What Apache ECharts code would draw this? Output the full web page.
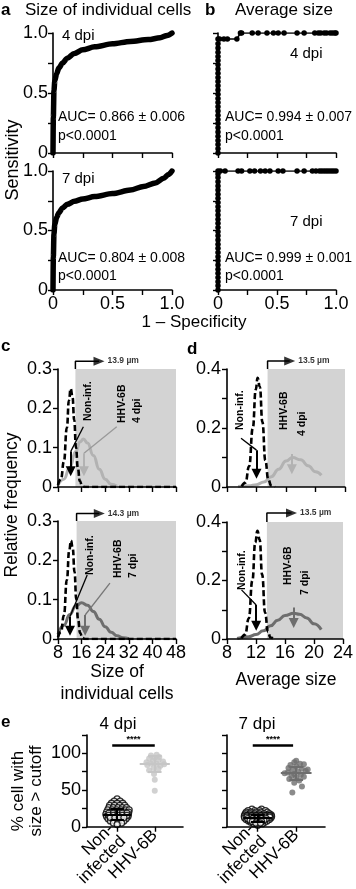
<!DOCTYPE html>
<html><head><meta charset="utf-8">
<script src="https://cdn.jsdelivr.net/npm/echarts@6.0.0/dist/echarts.min.js"></script>
<style>html,body{margin:0;padding:0;background:#fff;}#chart{width:356px;height:889px;}</style>
</head><body><div id="chart"></div>
<script>
// ---------------- data ----------------
const rocIndividual4 = [[0,0],[0.003,0.3],[0.008,0.52],[0.015,0.6],[0.03,0.66],[0.05,0.71],[0.08,0.75],[0.12,0.79],[0.18,0.83],[0.25,0.86],[0.35,0.885],[0.5,0.91],[0.65,0.93],[0.8,0.945],[0.9,0.96],[0.96,0.98],[1,1]];
const rocIndividual7 = [[0,0],[0.003,0.28],[0.008,0.47],[0.015,0.55],[0.03,0.61],[0.05,0.65],[0.08,0.69],[0.12,0.72],[0.18,0.745],[0.25,0.765],[0.35,0.785],[0.5,0.81],[0.65,0.84],[0.76,0.87],[0.86,0.9],[0.93,0.94],[0.97,0.97],[1,1]];
const rocAverage4 = [[0,0],[0,0.035],[0,0.07],[0,0.105],[0,0.14],[0,0.175],[0,0.21],[0,0.245],[0,0.28],[0,0.315],[0,0.35],[0,0.385],[0,0.42],[0,0.455],[0,0.49],[0,0.525],[0,0.56],[0,0.595],[0,0.63],[0,0.665],[0,0.7],[0,0.735],[0,0.77],[0,0.805],[0,0.84],[0,0.875],[0,0.91],[0,0.95],[0.014,0.95],[0.05,0.95],[0.08,0.95],[0.16,0.95],[0.19,1],[0.2,1],[0.29,1],[0.34,1],[0.415,1],[0.47,1],[0.51,1],[0.56,1],[0.67,1],[0.73,1],[0.82,1],[0.85,1],[0.87,1],[0.9,1],[0.92,1],[0.95,1],[0.97,1],[0.99,1],[1,1]];
const rocAverage7 = [[0,0],[0,0.035],[0,0.07],[0,0.105],[0,0.14],[0,0.175],[0,0.21],[0,0.245],[0,0.28],[0,0.315],[0,0.35],[0,0.385],[0,0.42],[0,0.455],[0,0.49],[0,0.525],[0,0.56],[0,0.595],[0,0.63],[0,0.665],[0,0.7],[0,0.735],[0,0.77],[0,0.805],[0,0.84],[0,0.875],[0,0.91],[0,0.945],[0,0.975],[0,1],[0.02,1],[0.06,1],[0.17,1],[0.2,1],[0.27,1],[0.31,1],[0.36,1],[0.4,1],[0.44,1],[0.51,1],[0.55,1],[0.67,1],[0.73,1],[0.8,1],[0.83,1],[0.86,1],[0.88,1],[0.9,1],[0.92,1],[0.94,1],[0.96,1],[0.98,1],[1,1]];
const aucIndividual = ['AUC= 0.866 ± 0.006', 'AUC= 0.804 ± 0.008'];
const aucAverage = ['AUC= 0.994 ± 0.007', 'AUC= 0.999 ± 0.001'];
const pValue = 'p<0.0001';
const dpiLabels = ['4 dpi', '7 dpi'];

const cutoffIndividual = [13.9, 14.3];
const cutoffAverage = [13.5, 13.5];
const histIndNon4 = [[8,0.005],[9,0.02],[10,0.065],[11,0.15],[11.7,0.22],[12.3,0.25],[12.9,0.23],[13.5,0.17],[14.1,0.1],[14.7,0.05],[15.4,0.015],[16.2,0.003],[17,0],[48,0]];
const histIndHhv4 = [[8,0.005],[10,0.02],[12,0.05],[14,0.09],[15.5,0.115],[16.6,0.122],[18,0.112],[20,0.08],[22,0.045],[24,0.02],[26,0.007],[28,0.002]];
const histIndNon7 = [[8,0.004],[9,0.018],[10,0.06],[11,0.15],[11.8,0.225],[12.4,0.25],[13,0.23],[13.6,0.17],[14.2,0.1],[14.8,0.05],[15.5,0.015],[16.3,0.003],[17,0],[48,0]];
const histIndHhv7 = [[8,0.012],[10,0.035],[12,0.062],[14,0.084],[16,0.092],[18,0.086],[20,0.07],[22,0.05],[24,0.031],[26,0.017],[28,0.008],[30,0.003],[32,0.001]];
const histAvgNon4 = [[10,0.002],[10.5,0.015],[11,0.07],[11.5,0.2],[11.9,0.33],[12.15,0.37],[12.45,0.34],[12.8,0.22],[13.2,0.09],[13.6,0.025],[14,0.005],[14.5,0]];
const histAvgHhv4 = [[9.5,0.002],[11,0.004],[12,0.008],[13,0.017],[14,0.035],[15,0.06],[16,0.088],[16.9,0.1],[18,0.092],[19,0.072],[20,0.052],[20.8,0.04]];
const histAvgNon7 = [[10,0.002],[10.5,0.015],[11,0.07],[11.5,0.2],[11.9,0.33],[12.2,0.37],[12.5,0.34],[12.85,0.22],[13.25,0.09],[13.65,0.025],[14,0.005],[14.5,0]];
const histAvgHhv7 = [[9.4,0.002],[11,0.008],[12,0.015],[13,0.028],[14,0.045],[15,0.064],[16,0.08],[17.2,0.088],[18,0.085],[19,0.072],[20,0.052],[21,0.032]];
// mean markers: [x, yFrom, yTo]
const markIndNon = [[12.3,0.09,0.04],[12.07,0.057,0.021]];
const markIndHhv = [[16.8,0.086,0.04],[17.2,0.061,0.021]];
const markAvgNon = [[12.0,0.125,0.045],[12.03,0.116,0.045]];
const markAvgHhv = [[16.8,0.112,0.06],[17.2,0.108,0.055]];
// label leader lines
const leadIndNon = [[[16.6,0.153],[12.3,0.09]], [[17.9,0.163],[12.07,0.057]]];
const leadIndHhv = [[[27.9,0.153],[16.8,0.086]], [[25.6,0.142],[17.2,0.061]]];
const leadAvgNon = [[[9.9,0.165],[12.0,0.125]], [[10.0,0.168],[12.03,0.116]]];

const eCategories = ['Non-\ninfected', 'HHV-6B'];
const eNon4 = [[1.0,38],[0.92,35],[1.08,35],[0.85,32],[1.0,32],[1.15,32],[0.8,29],[0.93,29],[1.07,29],[1.2,29],[0.78,26],[0.9,26],[1.02,26],[1.14,26],[1.25,26],[0.75,23],[0.87,23],[0.99,23],[1.11,23],[1.23,23],[1.32,23],[0.72,20],[0.84,20],[0.96,20],[1.08,20],[1.2,20],[1.31,20],[0.7,17],[0.82,17],[0.94,17],[1.06,17],[1.18,17],[1.3,17],[0.72,14],[0.84,14],[0.96,14],[1.08,14],[1.2,14],[1.29,14],[0.76,11],[0.88,11],[1.0,11],[1.12,11],[1.24,11],[0.82,8],[0.94,8],[1.06,8],[1.18,8],[0.9,5],[1.02,5],[1.12,5],[1.0,3],[0.78,18.5],[0.9,18.5],[1.02,18.5],[1.14,18.5],[1.26,18.5],[0.78,15.5],[0.9,15.5],[1.02,15.5],[1.14,15.5],[1.26,15.5],[0.82,12.5],[0.94,12.5],[1.06,12.5],[1.18,12.5]];
const eHhv4 = [[2.0,49],[2.0,64],[1.98,72],[1.85,77],[2.1,79],[1.97,80],[1.8,84],[2.15,83],[1.9,86],[2.05,86],[2.25,85],[1.78,88],[1.95,90],[2.1,91],[2.22,89],[1.85,93],[2.0,94],[2.12,95],[1.9,97],[2.05,98]];
const eNon7 = [[0.85,24],[1.1,24],[0.75,22],[0.92,22],[1.05,22],[1.2,22],[0.7,20],[0.82,20],[0.95,20],[1.08,20],[1.25,20],[0.68,18],[0.8,18],[0.92,18],[1.04,18],[1.16,18],[1.3,18],[0.66,16],[0.78,16],[0.9,16],[1.02,16],[1.14,16],[1.26,16],[1.35,16],[0.65,14],[0.77,14],[0.89,14],[1.01,14],[1.13,14],[1.25,14],[1.36,14],[0.66,12],[0.78,12],[0.9,12],[1.02,12],[1.14,12],[1.26,12],[1.34,12],[0.7,10],[0.82,10],[0.94,10],[1.06,10],[1.18,10],[1.3,10],[0.76,8],[0.88,8],[1.0,8],[1.12,8],[1.24,8],[0.82,6],[0.94,6],[1.06,6],[1.18,6],[0.9,4],[1.02,4],[1.12,4],[1.0,2],[0.72,15],[0.84,15],[0.96,15],[1.08,15],[1.2,15],[1.31,15],[0.72,13],[0.84,13],[0.96,13],[1.08,13],[1.2,13],[1.31,13],[0.74,11],[0.86,11],[0.98,11],[1.1,11],[1.22,11],[0.8,9],[0.92,9],[1.04,9],[1.16,9],[0.86,7],[0.98,7],[1.1,7],[0.95,5],[1.07,5]];
const eHhv7 = [[2.0,90],[1.95,88],[2.1,86],[1.85,84],[2.2,85],[2.0,82],[1.8,80],[2.15,79],[1.9,77],[2.25,76],[2.3,78],[2.05,75],[1.78,74],[1.7,73],[1.95,72],[2.12,71],[1.88,69],[2.0,67],[2.2,68],[1.82,65],[2.08,63],[1.95,60],[2.15,55],[1.9,46.5]];
const eMean4 = [17, 86], eSd4 = [7, 11];
const eMean7 = [12, 73], eSd7 = [5, 9];
const eSigBar = [[0.87, 2.0, 111], [0.87, 1.92, 111]];
const eSigText = '****';

// ---------------- helpers ----------------
const F = '"Liberation Sans", Arial, Helvetica, sans-serif';
const LIGHT = '#b2b2b2', DARK = '#6e6e6e', SHADE = '#d3d3d3', ELIGHT = '#c6c6c6';
function merge(a, b) { for (const k in b) { const v = b[k]; if (v && typeof v === 'object' && !Array.isArray(v) && a[k] && typeof a[k] === 'object' && !Array.isArray(a[k])) merge(a[k], v); else a[k] = v; } return a; }
function ax(o) {
  return merge({
    type: 'value', z: 5,
    axisLine: { show: true, onZero: false, lineStyle: { color: '#000', width: 1.6 } },
    axisTick: { show: true, inside: false, length: 5, lineStyle: { color: '#000', width: 1.4 } },
    axisLabel: { show: true, color: '#000', fontSize: 18, fontFamily: F, margin: 6 },
    splitLine: { show: false }
  }, o);
}
const fmtRoc = v => v === 0 ? '0' : Math.abs(v - 0.5) < 1e-9 ? '0.5' : Math.abs(v - 1) < 1e-9 ? '1.0' : '';
const fmtC = v => v === 0 ? '0' : v.toFixed(1);
const fmtD = v => { const r = Math.round(v * 10); return r === 0 ? '0' : (r % 2 === 0 ? (r / 10).toFixed(1) : ''); };
const fmtE = v => (v % 50 === 0 ? String(v) : '');

const grids = [
  { left: 53, top: 33, width: 119, height: 120 },
  { left: 218, top: 33, width: 118, height: 120 },
  { left: 53, top: 171, width: 119, height: 119 },
  { left: 218, top: 171, width: 118, height: 119 },
  { left: 58, top: 369, width: 118, height: 118 },
  { left: 227, top: 369, width: 118, height: 118 },
  { left: 58, top: 521, width: 118, height: 118 },
  { left: 227, top: 522, width: 118, height: 117 },
  { left: 87, top: 735, width: 96, height: 97 },
  { left: 227, top: 735, width: 98, height: 97 }
];
const xAxes = [], yAxes = [];
for (let i = 0; i < 4; i++) {
  xAxes.push(ax({ gridIndex: i, min: 0, max: 1, interval: 0.25, axisLabel: { show: i >= 2, formatter: fmtRoc, margin: 5 } }));
  yAxes.push(ax({ gridIndex: i, min: 0, max: 1, interval: 0.25, axisLabel: { show: i % 2 === 0, formatter: fmtRoc, margin: 5 } }));
}
[[4, 'c', false], [5, 'd', false], [6, 'c', true], [7, 'd', true]].forEach(([g, t, lab]) => {
  xAxes.push(ax({ gridIndex: g, min: 8, max: t === 'c' ? 48 : 24, interval: t === 'c' ? 8 : 4, axisLabel: { show: lab, margin: 5 } }));
  yAxes.push(ax({ gridIndex: g, min: 0, max: t === 'c' ? 0.3 : 0.4, interval: 0.1, axisLabel: { formatter: t === 'c' ? fmtC : fmtD, margin: 6 } }));
});
[8, 9].forEach((g, k) => {
  xAxes.push(ax({ gridIndex: g, min: 0.2, max: 2.75,
    axisTick: { customValues: [1, 2] },
    axisLabel: { customValues: [1, 2], rotate: 45, fontSize: 17, lineHeight: 17, margin: 6,
      formatter: v => eCategories[Math.round(v) - 1] } }));
  yAxes.push(ax({ gridIndex: g, min: 0, max: 125, interval: 25, axisLabel: { show: k === 0, formatter: fmtE, margin: 6 } }));
});

const series = [];
[[0, rocIndividual4], [2, rocIndividual7]].forEach(([i, d]) => series.push({
  type: 'line', xAxisIndex: i, yAxisIndex: i, data: d, symbol: 'none', smooth: 0.3, smoothMonotone: 'x',
  lineStyle: { color: '#000', width: 5.5, cap: 'round', join: 'round' }, z: 3 }));
[[1, rocAverage4], [3, rocAverage7]].forEach(([i, d]) => series.push({
  type: 'line', xAxisIndex: i, yAxisIndex: i, data: d, symbol: 'circle', symbolSize: 5.5, showAllSymbol: true,
  itemStyle: { color: '#000' }, lineStyle: { color: '#000', width: 1.5 }, z: 3 }));

function arrowLine(m, color) {
  return [[{ coord: [m[0], m[1]], lineStyle: { color: color, width: 2, type: 'solid' } }, { coord: [m[0], m[2]] }]];
}
function hist(axI, non, hhv, hhvColor, cut, xmax, ymax, rise, tip, mNon, mHhv, leadNon, leadHhv, leadHhvColor) {
  series.push({ type: 'line', xAxisIndex: axI, yAxisIndex: axI, data: hhv, symbol: 'none', smooth: true, smoothMonotone: 'x',
    lineStyle: { color: hhvColor, width: 3 }, z: 3,
    markArea: { silent: true, itemStyle: { color: SHADE }, data: [[{ xAxis: cut }, { xAxis: xmax }]] },
    markLine: { silent: true, symbol: ['none', 'triangle'], symbolSize: [10, 10], label: { show: false }, data: arrowLine(mHhv, hhvColor) } });
  series.push({ type: 'line', xAxisIndex: axI, yAxisIndex: axI, data: non, symbol: 'none', smooth: true, smoothMonotone: 'x',
    lineStyle: { color: '#000', width: 2.6, type: [6, 3] }, z: 4,
    markLine: { silent: true, symbol: ['none', 'triangle'], symbolSize: [10, 10], label: { show: false }, data: arrowLine(mNon, '#000') } });
  series.push({ type: 'line', xAxisIndex: axI, yAxisIndex: axI, data: leadNon, symbol: 'none', lineStyle: { color: '#000', width: 1.3 }, z: 4 });
  if (leadHhv) series.push({ type: 'line', xAxisIndex: axI, yAxisIndex: axI, data: leadHhv, symbol: 'none', lineStyle: { color: leadHhvColor, width: 1.3 }, z: 4 });
  series.push({ type: 'line', xAxisIndex: axI, yAxisIndex: axI, clip: false, symbol: 'none',
    data: [[cut, ymax], [cut, ymax + rise], [tip, ymax + rise]], lineStyle: { color: '#000', width: 1.5 }, z: 6 });
  series.push({ type: 'scatter', xAxisIndex: axI, yAxisIndex: axI, clip: false, symbol: 'triangle', symbolSize: [9, 11], symbolRotate: -90,
    itemStyle: { color: '#000' }, z: 6, data: [[tip, ymax + rise]],
    label: { show: true, position: 'right', distance: 3, formatter: cut.toFixed(1) + ' µm', fontSize: 8.5, fontWeight: 'bold', color: '#000', fontFamily: F } });
}
hist(4, histIndNon4, histIndHhv4, LIGHT, cutoffIndividual[0], 48, 0.3, 0.02, 21.9, markIndNon[0], markIndHhv[0], leadIndNon[0], leadIndHhv[0], '#999');
hist(5, histAvgNon4, histAvgHhv4, LIGHT, cutoffAverage[0], 24, 0.4, 0.027, 16.5, markAvgNon[0], markAvgHhv[0], leadAvgNon[0], null);
hist(6, histIndNon7, histIndHhv7, DARK, cutoffIndividual[1], 48, 0.3, 0.019, 22.0, markIndNon[1], markIndHhv[1], leadIndNon[1], leadIndHhv[1], '#777');
hist(7, histAvgNon7, histAvgHhv7, DARK, cutoffAverage[1], 24, 0.4, 0.031, 16.9, markAvgNon[1], markAvgHhv[1], leadAvgNon[1], null);

function meanSd(x, m, s, color, halfW) {
  const ls = { color: color, width: 2, type: 'solid' };
  return [
    [{ coord: [x - halfW, m], lineStyle: ls }, { coord: [x + halfW, m] }],
    [{ coord: [x, m - s], lineStyle: ls }, { coord: [x, m + s] }],
    [{ coord: [x - 0.18, m + s], lineStyle: ls }, { coord: [x + 0.18, m + s] }],
    [{ coord: [x - 0.18, m - s], lineStyle: ls }, { coord: [x + 0.18, m - s] }]
  ];
}
[[8, eNon4, eHhv4, ELIGHT, eMean4, eSd4, eSigBar[0]], [9, eNon7, eHhv7, DARK, eMean7, eSd7, eSigBar[1]]].forEach(([a, non, hhv, col, mean, sd, sig]) => {
  series.push({ type: 'scatter', xAxisIndex: a, yAxisIndex: a, data: non, symbol: 'circle', symbolSize: 6,
    itemStyle: { color: '#fff', borderColor: '#000', borderWidth: 1.3 }, z: 3,
    markLine: { silent: true, symbol: ['none', 'none'], label: { show: false }, data: meanSd(1, mean[0], sd[0], '#000', 0.37) } });
  series.push({ type: 'scatter', xAxisIndex: a, yAxisIndex: a, data: hhv, symbol: 'circle', symbolSize: 6,
    itemStyle: { color: col }, z: 3,
    markLine: { silent: true, symbol: ['none', 'none'], label: { show: false },
      data: meanSd(2, mean[1], sd[1], col, 0.4).concat([[
        { coord: [sig[0], sig[2]], lineStyle: { color: '#000', width: 2.5, type: 'solid' },
          label: { show: true, position: 'middle', formatter: eSigText, fontSize: 9, fontWeight: 'bold', color: '#000', distance: 1, fontFamily: F } },
        { coord: [sig[1], sig[2]] }]]) } });
});

function T(x, y, text, size, o) {
  o = o || {};
  return { type: 'text', x: x, y: y, rotation: o.rot || 0, z: 20,
    style: { text: text, fontSize: size, fontFamily: F, fontWeight: o.bold ? 'bold' : 'normal', fill: o.color || '#000',
      align: o.align || 'left', textAlign: o.align || 'left', verticalAlign: 'middle', textVerticalAlign: 'middle' } };
}
const R = Math.PI / 2;
const graphics = [
  T(1, 10, 'a', 17, { bold: true }), T(25, 10, 'Size of individual cells', 17),
  T(205, 10, 'b', 17, { bold: true }), T(235, 10, 'Average size', 17),
  T(13, 160, 'Sensitivity', 18, { rot: R, align: 'center' }),
  T(62, 36, dpiLabels[0], 15), T(58, 117, aucIndividual[0], 14), T(58, 136, pValue, 14),
  T(290, 54, dpiLabels[0], 15), T(225, 117, aucAverage[0], 14), T(225, 136, pValue, 14),
  T(62, 179, dpiLabels[1], 15), T(58, 258, aucIndividual[1], 14), T(58, 276, pValue, 14),
  T(290, 222, dpiLabels[1], 15), T(225, 258, aucAverage[1], 14), T(225, 276, pValue, 14),
  T(194, 322, '1 – Specificity', 17, { align: 'center' }),
  T(1, 346, 'c', 17, { bold: true }), T(187, 349, 'd', 17, { bold: true }),
  T(12, 505, 'Relative frequency', 17.5, { rot: R, align: 'center' }),
  T(88, 421, 'Non-inf.', 10.5, { rot: R, bold: true }), T(122, 423, 'HHV-6B', 10.5, { rot: R, bold: true }), T(137, 423, dpiLabels[0], 10.5, { rot: R, bold: true }),
  T(90, 575, 'Non-inf.', 10.5, { rot: R, bold: true }), T(118, 578, 'HHV-6B', 10.5, { rot: R, bold: true }), T(133, 578, dpiLabels[1], 10.5, { rot: R, bold: true }),
  T(240, 430, 'Non-inf.', 10.5, { rot: R, bold: true }), T(284, 430, 'HHV-6B', 10.5, { rot: R, bold: true }), T(302, 436, dpiLabels[0], 10.5, { rot: R, bold: true }),
  T(242, 590, 'Non-inf.', 10.5, { rot: R, bold: true }), T(288, 585, 'HHV-6B', 10.5, { rot: R, bold: true }), T(305, 595, dpiLabels[1], 10.5, { rot: R, bold: true }),
  T(117, 672, 'Size of', 17.5, { align: 'center' }), T(117, 694, 'individual cells', 17.5, { align: 'center' }),
  T(286, 680, 'Average size', 17.5, { align: 'center' }),
  T(1, 722, 'e', 17, { bold: true }),
  T(118, 724, dpiLabels[0], 17, { align: 'center' }), T(257, 724, dpiLabels[1], 17, { align: 'center' }),
  T(18, 791, '% cell with', 17, { rot: R, align: 'center' }), T(36, 791, 'size > cutoff', 17, { rot: R, align: 'center' })
];

const chart = echarts.init(document.getElementById('chart'), null, { renderer: 'canvas' });
chart.setOption({
  animation: false, backgroundColor: '#fff',
  grid: grids, xAxis: xAxes, yAxis: yAxes, series: series, graphic: graphics
});
</script></body></html>
